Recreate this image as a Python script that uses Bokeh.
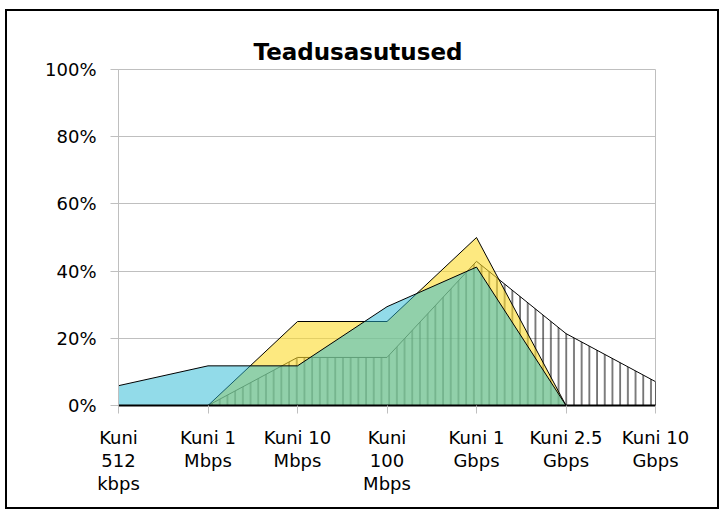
from bokeh.plotting import figure
from bokeh.models import FixedTicker, PrintfTickFormatter, Range1d, Title
from bokeh.embed import file_html
from bokeh.resources import INLINE

categories = ["Kuni\n512\nkbps", "Kuni 1\nMbps", "Kuni 10\nMbps", "Kuni\n100\nMbps",
              "Kuni 1\nGbps", "Kuni 2.5\nGbps", "Kuni 10\nGbps"]
blue_values = [5.9, 11.8, 11.8, 29.4, 41.2, 0.0, 0.0]
yellow_values = [0.0, 0.0, 25.0, 25.0, 50.0, 0.0, 0.0]
hatch_values = [0.0, 0.0, 14.3, 14.3, 42.9, 21.4, 7.1]
y_ticks = [0, 20, 40, 60, 80, 100]
chart_title = "Teadusasutused"

x = list(range(len(categories)))

p = figure(width=714, height=500, output_backend="svg", toolbar_location=None,
           x_range=Range1d(0, len(categories) - 1), y_range=Range1d(0, 100),
           min_border_left=111, min_border_right=66, min_border_top=58, min_border_bottom=106,
           title=".")
p.styles = {"border": "2px solid black", "margin-left": "5px", "margin-top": "9px"}

# the figure's own title is an invisible spacer next to the plot area
p.title.text_alpha = 0
p.title.text_font_size = "1px"
p.title.standoff = 16

p.add_layout(Title(text=chart_title, text_font="DejaVu Sans", text_font_size="23px",
                   text_font_style="bold", text_color="black", align="left",
                   offset=135, standoff=10), "above")

def closed(vals):
    return x + [x[-1], x[0]], vals + [0, 0]

hx, hy = closed(hatch_values)
p.patch(hx, hy, fill_color=None, line_color="black", line_width=1,
        hatch_pattern="|", hatch_color="black", hatch_scale=7.7, hatch_weight=1)
yx, yy = closed(yellow_values)
p.patch(yx, yy, fill_color="#fbda2b", fill_alpha=0.6, line_color="black", line_width=1)
bx, by = closed(blue_values)
p.patch(bx, by, fill_color="#25b7d3", fill_alpha=0.5, line_color="black", line_width=1)

p.outline_line_color = "#bfbfbf"
p.outline_line_width = 1

p.xgrid.grid_line_color = None
p.ygrid.grid_line_color = "#bfbfbf"
p.ygrid.ticker = FixedTicker(ticks=y_ticks)

p.yaxis.ticker = FixedTicker(ticks=y_ticks)
p.yaxis.formatter = PrintfTickFormatter(format="%d%%")
p.xaxis.ticker = FixedTicker(ticks=x)
p.xaxis.major_label_overrides = {i: c for i, c in enumerate(categories)}

for ax in (p.xaxis, p.yaxis):
    ax.axis_line_color = "#bfbfbf"
    ax.major_tick_line_color = "#bfbfbf"
    ax.major_tick_out = 8
    ax.major_tick_in = 0
    ax.minor_tick_line_color = None
    ax.major_label_text_font = "DejaVu Sans"
    ax.major_label_text_font_size = "18px"
    ax.major_label_text_color = "black"
p.xaxis.axis_line_color = "black"
p.xaxis.axis_line_width = 2
p.xaxis.major_label_standoff = 13
p.xaxis.major_label_text_line_height = 1.1
p.yaxis.major_label_standoff = 14

open("out.html", "w").write(file_html(p, INLINE))
